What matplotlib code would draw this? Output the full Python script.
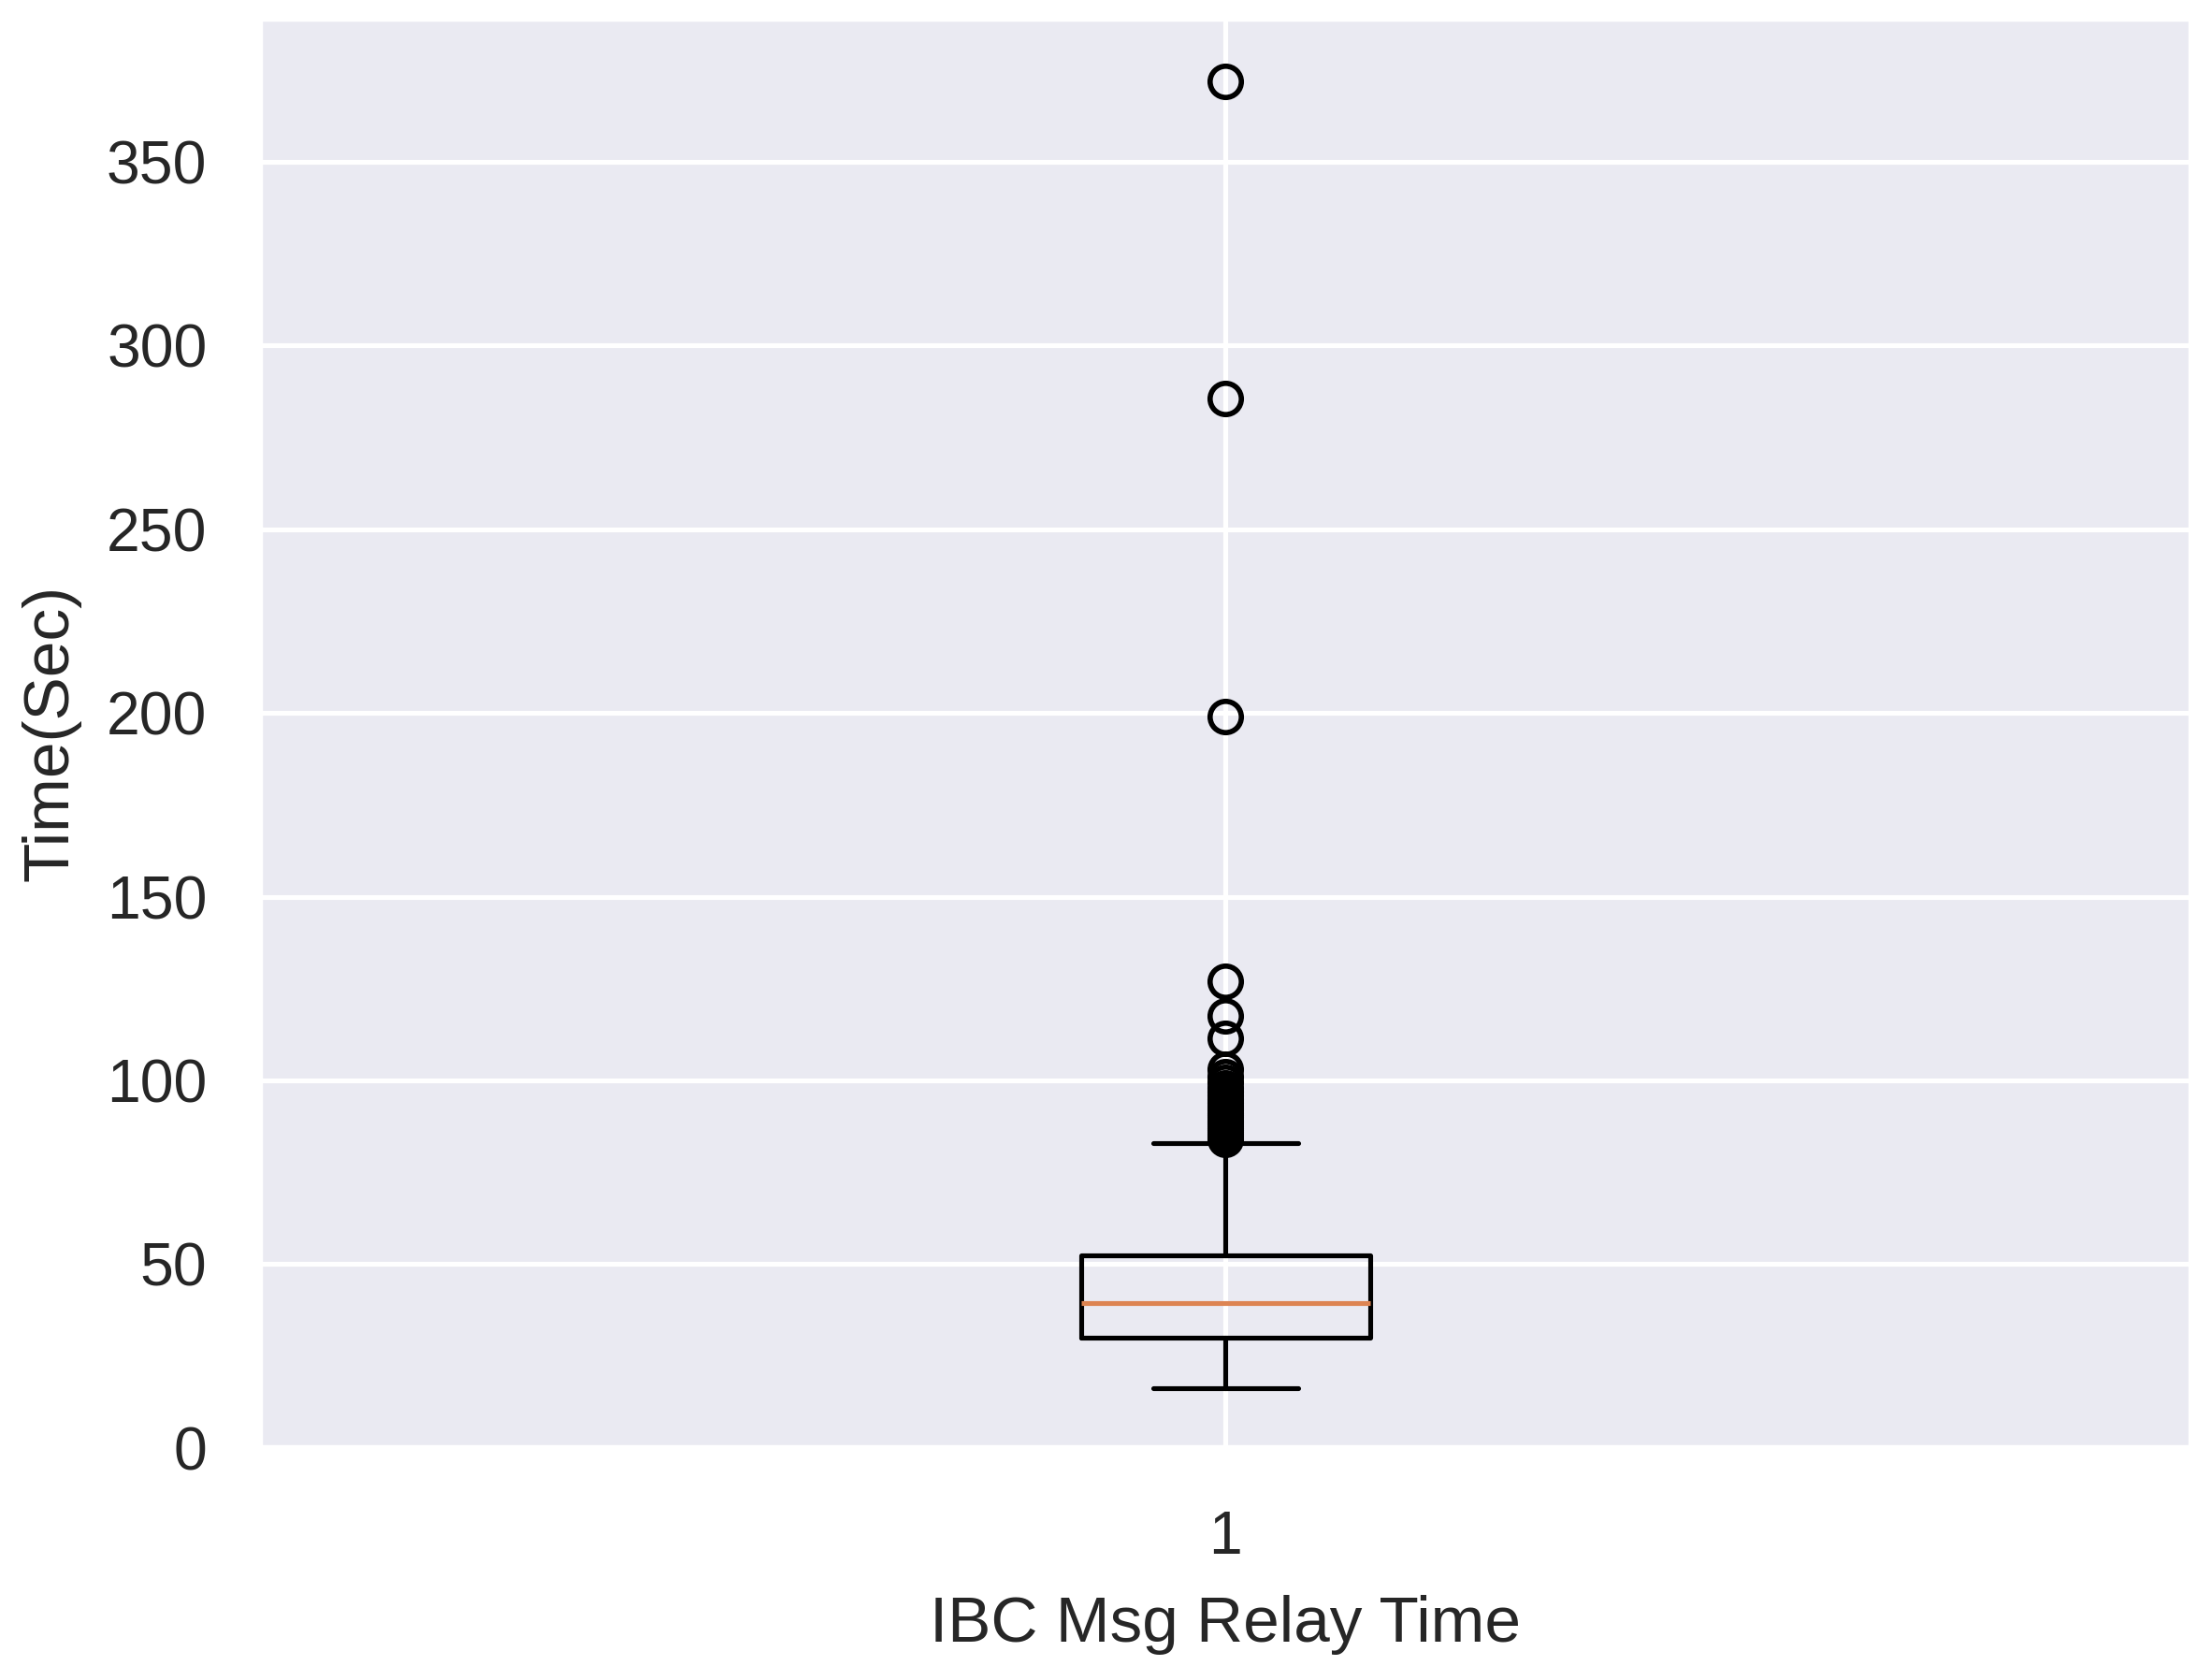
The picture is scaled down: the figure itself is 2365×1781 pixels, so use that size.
import matplotlib
matplotlib.use('Agg')
import matplotlib.pyplot as plt
import seaborn as sns

# summary stats
label = '1'
q1 = 29.9
median = 39.4
q3 = 52.3
whisker_low = 16.1
whisker_high = 82.9
outliers = [372, 285.5, 199, 127, 117.5, 111.5, 103, 101, 99.5, 98, 97, 96,
            95, 94, 93, 92.5, 92, 91, 90.5, 90, 89, 88.5, 88, 87.5, 87,
            86.5, 86, 85.5, 85, 84.5, 84]

sns.set_theme(style='darkgrid')
plt.rcParams['font.family'] = ['Liberation Sans', 'DejaVu Sans']

stats = [{
    'label': label,
    'q1': q1, 'med': median, 'q3': q3,
    'whislo': whisker_low, 'whishi': whisker_high,
    'fliers': outliers,
}]

fig = plt.figure(figsize=(2365 / 370, 1781 / 370), dpi=370)
ax = fig.add_axes([0.1175, 0.131, 0.8732, 0.8578])

ax.bxp(stats, positions=[1], widths=0.15,
       boxprops=dict(color='black', linewidth=1),
       whiskerprops=dict(color='black', linewidth=1),
       capprops=dict(color='black', linewidth=1),
       medianprops=dict(color='#DD8452', linewidth=1),
       flierprops=dict(marker='o', markerfacecolor='none',
                       markeredgecolor='black', markersize=6.5,
                       markeredgewidth=1.1))

ax.set_xlim(0.5, 1.5)
ax.set_ylim(0, 389)
ax.set_yticks([0, 50, 100, 150, 200, 250, 300, 350])
ax.tick_params(axis='y', labelsize=12.5, colors='#262626', pad=5)
ax.tick_params(axis='x', labelsize=12.5, colors='#262626', pad=7)
ax.set_xlabel('IBC Msg Relay Time', fontsize=13.5, color='#262626', labelpad=6)
ax.set_ylabel('Time(Sec)', fontsize=13.5, color='#262626', va='center')
ax.yaxis.set_label_coords(-0.108, 0.5)

fig.savefig('out.png', dpi=370)
